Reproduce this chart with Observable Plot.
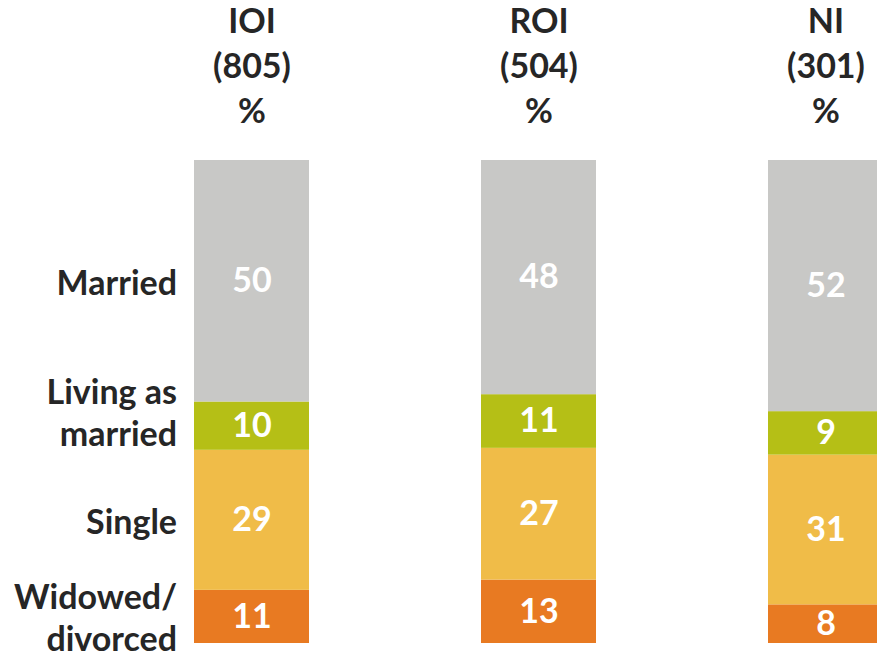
<!DOCTYPE html>
<html>
<head>
<meta charset="utf-8">
<script src="https://cdn.jsdelivr.net/npm/d3@7"></script>
<script src="https://cdn.jsdelivr.net/npm/@observablehq/plot@0.6"></script>
<style>
  html, body { margin: 0; padding: 0; background: #fff; overflow: hidden; }
  #chart { width: 877px; height: 659px; overflow: hidden; }
</style>
</head>
<body>
<div id="chart"></div>
<script>
const regions = ["IOI", "ROI", "NI"];
const bases = [805, 504, 301];
const statuses = ["Widowed/\ndivorced", "Single", "Living as\nmarried", "Married"];
const colors = ["#E87A22", "#F0BC48", "#B5BF16", "#C8C8C6"];
const widowed = [11, 13, 8];
const single = [29, 27, 31];
const living = [10, 11, 9];
const married = [50, 48, 52];

const series = [widowed, single, living, married];
const rows = [];
regions.forEach((r, i) => {
  statuses.forEach((s, j) => {
    rows.push({region: r, status: s, value: series[j][i]});
  });
});
const headers = regions.map((r, i) => ({region: r, text: `${r}\n(${bases[i]})\n%`}));
const firstRows = rows.filter(d => d.region === regions[0]);
const isLiving = d => d.status === statuses[2];

const font = "Lato, 'Open Sans', sans-serif";
const FS = 34;
const ink = "#262626";
const stack = (extra = {}) => Plot.stackY({offset: "normalize", order: null, x: "region", y: "value", z: "status", ...extra});
const labelOpts = {dx: -75, textAnchor: "end", lineHeight: 1.24, fontSize: FS, fontWeight: "bold", fill: ink};

const chart = Plot.plot({
  width: 877,
  height: 659,
  marginTop: 160,
  marginBottom: 16,
  marginLeft: 0,
  marginRight: 0,
  style: {fontFamily: font, background: "#fff"},
  x: {domain: regions, range: [21.8, 1055], paddingInner: 0.6, paddingOuter: 0.6, axis: null},
  y: {domain: [0, 1], axis: null},
  color: {domain: statuses, range: colors},
  marks: [
    Plot.barY(rows, stack({fill: "status"})),
    Plot.text(rows, stack({text: "value", fill: "#fff", fontSize: FS, fontWeight: "bold"})),
    Plot.text(headers, {x: "region", frameAnchor: "top", dy: -97, text: "text", lineAnchor: "middle", lineHeight: 1.32, fontSize: FS, fontWeight: "bold", fill: ink}),
    Plot.text(firstRows, stack({...labelOpts, text: d => isLiving(d) ? "" : d.status})),
    Plot.text(firstRows, stack({...labelOpts, text: d => isLiving(d) ? d.status : "", dy: -15}))
  ]
});
document.getElementById("chart").append(chart);
</script>
</body>
</html>
